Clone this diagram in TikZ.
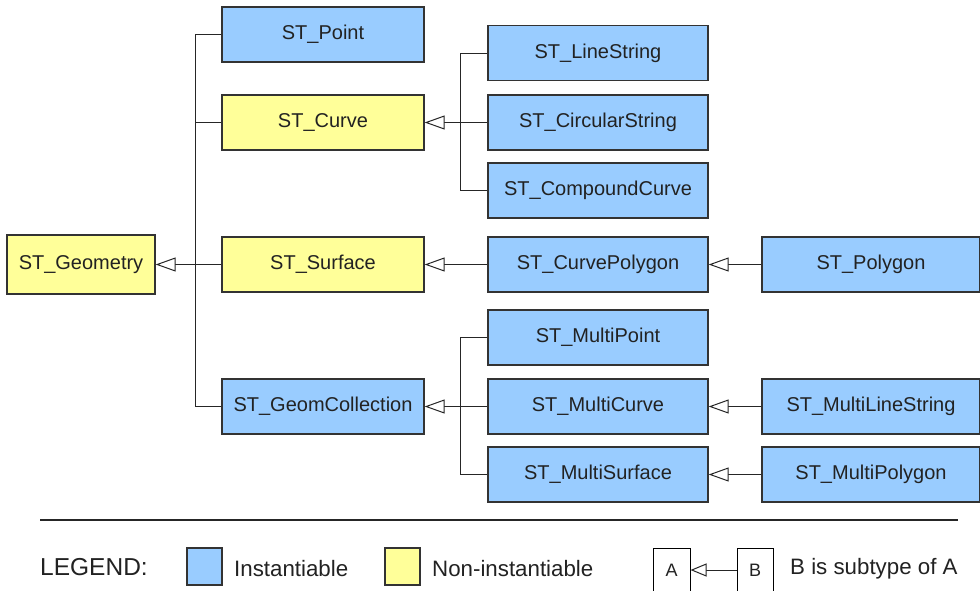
\documentclass[tikz,border=0pt]{standalone}
\usepackage{fontspec}
\setmainfont{Liberation Sans}
\usetikzlibrary{arrows.meta}
\definecolor{instblue}{HTML}{99CCFF}
\definecolor{nonyellow}{HTML}{FFFF99}
\definecolor{edge}{HTML}{333333}
\definecolor{txt}{HTML}{222222}
\tikzset{
  box/.style={draw=edge, line width=1.3pt, minimum height=55pt, inner sep=0pt,
    text=txt, font=\fontsize{20}{24}\selectfont},
  inst/.style={box, fill=instblue},
  noninst/.style={box, fill=nonyellow},
  link/.style={draw=black!85, line width=1pt},
  sub/.style={link, -{Triangle[open, length=20pt, width=14pt, fill=white]}},
  legtext/.style={anchor=west, text=txt, font=\fontsize{22.3}{26}\selectfont, inner sep=0pt},
}
\begin{document}
\begin{tikzpicture}[x=1pt,y=-1pt]
\clip (0,0) rectangle (980,590);
\fill[white] (0,0) rectangle (980,590);
% column 0
\node[noninst, minimum width=148pt, minimum height=59pt] (geom) at (81,264.5) {ST\_Geometry};
% column 1
\node[inst, minimum width=202pt] (point) at (323,34.5) {ST\_Point};
\node[noninst, minimum width=202pt] (curve) at (323,122.5) {ST\_Curve};
\node[noninst, minimum width=202pt] (surface) at (323,264.5) {ST\_Surface};
\node[inst, minimum width=202pt] (coll) at (323,406.5) {ST\_GeomCollection};
% column 2
\node[inst, minimum width=220pt] (ls) at (598,53) {ST\_LineString};
\node[inst, minimum width=220pt] (cs) at (598,122.5) {ST\_CircularString};
\node[inst, minimum width=220pt] (cc) at (598,190.5) {ST\_CompoundCurve};
\node[inst, minimum width=220pt] (cpoly) at (598,264.5) {ST\_CurvePolygon};
\node[inst, minimum width=220pt] (mp) at (598,337.5) {ST\_MultiPoint};
\node[inst, minimum width=220pt] (mc) at (598,406.5) {ST\_MultiCurve};
\node[inst, minimum width=220pt] (ms) at (598,474.5) {ST\_MultiSurface};
% column 3
\node[inst, minimum width=218pt] (poly) at (871,264.5) {ST\_Polygon};
\node[inst, minimum width=218pt] (mls) at (871,406.5) {ST\_MultiLineString};
\node[inst, minimum width=218pt] (mpoly) at (871,474.5) {ST\_MultiPolygon};
% trunks
\coordinate (tA) at (195,0);
\coordinate (tB) at (460,0);
\draw[link] (point.west) -- (point.west -| tA) -- (coll.west -| tA) -- (coll.west);
\draw[link] (curve.west) -- (curve.west -| tA);
\draw[sub] (surface.west) -- (geom.east);
\draw[link] (ls.west) -- (ls.west -| tB) -- (cc.west -| tB) -- (cc.west);
\draw[sub] (cs.west) -- (curve.east);
\draw[sub] (cpoly.west) -- (surface.east);
\draw[sub] (poly.west) -- (cpoly.east);
\draw[link] (mp.west) -- (mp.west -| tB) -- (ms.west -| tB) -- (ms.west);
\draw[sub] (mc.west) -- (coll.east);
\draw[sub] (mls.west) -- (mc.east);
\draw[sub] (mpoly.west) -- (ms.east);
% separator
\coordinate (sepL) at (40,520);
\coordinate (sepR) at (958,520);
\draw[draw=black!85, line width=2pt] (sepL) -- (sepR);
% legend
\node[legtext, font=\fontsize{24.5}{28}\selectfont] (leg) at (40,567) {LEGEND:};
\node[draw=edge, line width=1.3pt, fill=instblue, minimum width=35pt, minimum height=37pt, inner sep=0pt] (lblue) at (204.5,566.5) {};
\node[legtext] (linst) at (234,569) {Instantiable};
\node[draw=edge, line width=1.3pt, fill=nonyellow, minimum width=35pt, minimum height=37pt, inner sep=0pt] (lyellow) at (402.5,566.5) {};
\node[legtext] (lnon) at (432,569) {Non-instantiable};
\node[draw=black, line width=1pt, fill=white, minimum width=37pt, minimum height=44pt, inner sep=0pt, text=txt, font=\fontsize{18}{21}\selectfont] (la) at (671.5,570) {A};
\node[draw=black, line width=1pt, fill=white, minimum width=36pt, minimum height=44pt, inner sep=0pt, text=txt, font=\fontsize{18}{21}\selectfont] (lb) at (755,570) {B};
\draw[link, -{Triangle[open, length=16pt, width=13pt, fill=white]}] (lb.west) -- (la.east);
\node[legtext] (lsub) at (790,569) {B is subtype of A};
\end{tikzpicture}
\end{document}
